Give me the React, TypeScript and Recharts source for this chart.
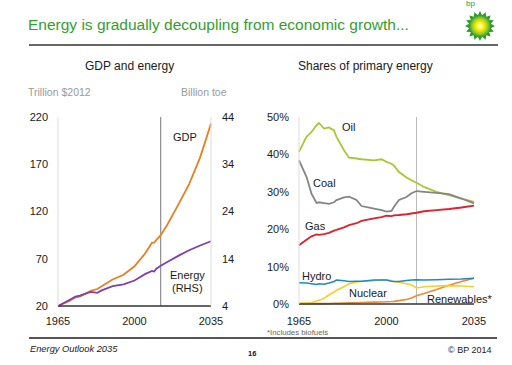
import React from "react";
import { LineChart, Line, XAxis, YAxis, ReferenceLine } from "recharts";

// GDP and energy (left panel)
const gdpYears = [1965, 1970, 1973, 1975, 1980, 1983, 1985, 1990, 1995, 2000, 2005, 2008, 2009, 2010, 2012, 2015, 2020, 2025, 2030, 2035];
const gdpValues = [20, 25, 29, 30, 36, 38, 41, 48, 53, 62, 76, 87, 87, 90, 95, 106, 127, 149, 177, 213];
const energyValues = [4, 5.2, 6, 6.2, 7, 6.8, 7.3, 8.2, 8.6, 9.4, 10.8, 11.4, 11.3, 11.9, 12.5, 13.3, 14.6, 15.8, 16.8, 17.7];
const gdpTicks = [20, 70, 120, 170, 220];
const energyTicks = [4, 14, 24, 34, 44];

// Shares of primary energy (right panel), %
const shareYears = [1965, 1968, 1970, 1972, 1973, 1975, 1977, 1979, 1980, 1983, 1985, 1988, 1990, 1995, 1998, 2000, 2002, 2003, 2005, 2008, 2010, 2012, 2015, 2020, 2025, 2030, 2035];
const oil = [40.7, 44.7, 46, 47.8, 48.4, 46.9, 47.2, 46.4, 44.7, 41.1, 39.1, 38.9, 38.7, 38.4, 38.7, 38, 37.5, 37, 35.3, 33.8, 33.1, 32.4, 31.3, 30, 29.1, 28.2, 27.3];
const coal = [38.4, 34, 29.5, 27, 27.2, 27, 26.8, 27.2, 27.8, 28.5, 28.7, 27.8, 26.2, 25.5, 25.1, 24.7, 24.9, 26, 27.8, 28.6, 29.6, 30.2, 30, 29.7, 29.4, 28.2, 26.9];
const gas = [15.7, 17.2, 18.1, 18.6, 18.5, 18.7, 19, 19.6, 19.8, 20.5, 21.1, 21.6, 22.2, 22.9, 23.2, 23.6, 23.5, 23.7, 23.8, 24, 24.2, 24.4, 24.8, 25.1, 25.4, 25.8, 26.3];
const hydro = [5.7, 5.6, 5.4, 5.2, 5.4, 5.3, 5.6, 6, 6.4, 6.2, 6, 6.1, 6.1, 6.4, 6.4, 6.4, 6.1, 6, 6, 6.3, 6.4, 6.5, 6.4, 6.5, 6.6, 6.7, 6.9];
const nuclear = [0.2, 0.3, 0.4, 0.8, 1, 1.5, 2.4, 3.2, 3.7, 4.6, 5.4, 5.9, 6, 6.2, 6.4, 6.4, 6.3, 6, 5.8, 5.4, 5.1, 4.3, 4.6, 4.8, 4.9, 4.8, 4.6];
const renewables = [0.1, 0.1, 0.1, 0.1, 0.1, 0.1, 0.15, 0.2, 0.2, 0.25, 0.3, 0.35, 0.4, 0.5, 0.55, 0.6, 0.65, 0.7, 0.9, 1.2, 1.6, 2.2, 2.8, 3.9, 5, 6, 6.9];
const shareTicks = [0, 10, 20, 30, 40, 50];
const yearTicks = [1965, 2000, 2035];
const baseYear = 2012;

const gdpData = gdpYears.map((year, i) => ({ year, gdp: gdpValues[i], energy: energyValues[i] }));
const shareData = shareYears.map((year, i) => ({
  year,
  oil: oil[i],
  coal: coal[i],
  gas: gas[i],
  hydro: hydro[i],
  nuclear: nuclear[i],
  renewables: renewables[i],
}));

const FONT = "'Liberation Sans', Arial, Helvetica, sans-serif";
const tickStyle = { fill: "#1a1a1a", fontSize: 11, fontFamily: FONT };

const Txt = ({
  x,
  y,
  size = 11,
  color = "#1a1a1a",
  children,
  style = {},
}: {
  x: number;
  y: number;
  size?: number;
  color?: string;
  children: React.ReactNode;
  style?: React.CSSProperties;
}) => (
  <div
    style={{
      position: "absolute",
      left: x,
      top: y - size / 2,
      fontSize: size,
      lineHeight: `${size}px`,
      color,
      whiteSpace: "nowrap",
      fontFamily: FONT,
      ...style,
    }}
  >
    {children}
  </div>
);

const BpLogo = () => {
  const rays = [];
  for (let i = 0; i < 16; i++) {
    const a = (i / 16) * Math.PI * 2;
    const b = a + Math.PI / 16;
    rays.push(
      `${16 + Math.cos(a) * 15},${16 + Math.sin(a) * 15} ${16 + Math.cos(b) * 11},${16 + Math.sin(b) * 11}`
    );
  }
  return (
    <svg width={32} height={32} style={{ position: "absolute", left: 464, top: 10 }}>
      <defs>
        <radialGradient id="sun" cx="50%" cy="50%" r="50%">
          <stop offset="0%" stopColor="#ffffff" />
          <stop offset="35%" stopColor="#fff200" />
          <stop offset="70%" stopColor="#9ccc2a" />
          <stop offset="100%" stopColor="#2e9a2e" />
        </radialGradient>
      </defs>
      <polygon points={rays.join(" ")} fill="#2e9a2e" />
      <circle cx={16} cy={16} r={11} fill="url(#sun)" />
    </svg>
  );
};

const App = () => {
  return (
    <div
      style={{
        position: "fixed",
        left: 0,
        top: 0,
        width: 512,
        height: 365,
        background: "#fff",
        fontFamily: FONT,
        overflow: "hidden",
      }}
    >
      <Txt x={28} y={25} size={15.5} color="#33a02c">
        Energy is gradually decoupling from economic growth...
      </Txt>
      <Txt x={466} y={4} size={8} color="#2e9a2e">bp</Txt>
      <BpLogo />
      <div style={{ position: "absolute", left: 29, top: 44, width: 469, height: 2, background: "#666" }} />

      <Txt x={85} y={66} size={12}>GDP and energy</Txt>
      <Txt x={298} y={66} size={12}>Shares of primary energy</Txt>
      <Txt x={28} y={92} size={10.5} color="#999">Trillion $2012</Txt>
      <Txt x={181} y={92} size={10.5} color="#999">Billion toe</Txt>

      <div style={{ position: "absolute", left: 0, top: 100 }}>
        <LineChart width={256} height={230} data={gdpData} margin={{ top: 17, right: 0, bottom: 0, left: 0 }}>
          <XAxis
            dataKey="year"
            type="number"
            domain={[1965, 2035]}
            ticks={yearTicks}
            tick={tickStyle}
            tickLine={false}
            tickSize={6}
            tickMargin={5}
            height={24}
            axisLine={{ stroke: "#333", strokeWidth: 1.5 }}
          />
          <YAxis
            yAxisId="left"
            domain={[20, 220]}
            ticks={gdpTicks}
            tick={tickStyle}
            tickLine={false}
            tickSize={6}
            tickMargin={4}
            width={58}
            axisLine={{ stroke: "#ddd" }}
          />
          <YAxis
            yAxisId="right"
            orientation="right"
            domain={[4, 44]}
            ticks={energyTicks}
            tick={{ ...tickStyle, textAnchor: "start" }}
            tickLine={false}
            tickSize={6}
            tickMargin={5}
            width={45}
            axisLine={{ stroke: "#ddd" }}
          />
          <ReferenceLine yAxisId="left" x={baseYear} stroke="#777" strokeWidth={1} />
          <Line yAxisId="left" dataKey="gdp" stroke="#e8801f" strokeWidth={1.8} dot={false} isAnimationActive={false} />
          <Line yAxisId="right" dataKey="energy" stroke="#7d3fb0" strokeWidth={1.8} dot={false} isAnimationActive={false} />
        </LineChart>
      </div>

      <div style={{ position: "absolute", left: 256, top: 100 }}>
        <LineChart width={256} height={230} data={shareData} margin={{ top: 17, right: 38, bottom: 0, left: 0 }}>
          <XAxis
            dataKey="year"
            type="number"
            domain={[1965, 2035]}
            ticks={yearTicks}
            tick={tickStyle}
            tickLine={false}
            tickSize={6}
            tickMargin={7}
            height={26}
            axisLine={{ stroke: "#333", strokeWidth: 1.5 }}
          />
          <YAxis
            domain={[0, 50]}
            ticks={shareTicks}
            tick={tickStyle}
            tickFormatter={(v) => `${v}%`}
            tickLine={false}
            tickSize={6}
            tickMargin={4}
            width={43}
            axisLine={{ stroke: "#ddd" }}
          />
          <ReferenceLine x={baseYear} stroke="#bbb" strokeWidth={1} />
          <Line dataKey="oil" stroke="#a8c832" strokeWidth={1.8} dot={false} isAnimationActive={false} />
          <Line dataKey="coal" stroke="#858585" strokeWidth={1.8} dot={false} isAnimationActive={false} />
          <Line dataKey="gas" stroke="#e0202a" strokeWidth={1.8} dot={false} isAnimationActive={false} />
          <Line dataKey="renewables" stroke="#f08a30" strokeWidth={1.6} dot={false} isAnimationActive={false} />
          <Line dataKey="nuclear" stroke="#f2d21e" strokeWidth={1.6} dot={false} isAnimationActive={false} />
          <Line dataKey="hydro" stroke="#1e88c8" strokeWidth={1.6} dot={false} isAnimationActive={false} />
        </LineChart>
      </div>

      <Txt x={173} y={137} size={11}>GDP</Txt>
      <Txt x={170} y={275} size={11}>Energy</Txt>
      <Txt x={172} y={288} size={11}>(RHS)</Txt>

      <Txt x={342} y={127} size={11}>Oil</Txt>
      <Txt x={313} y={183} size={11}>Coal</Txt>
      <Txt x={305} y={226} size={11}>Gas</Txt>
      <Txt x={302} y={276} size={11}>Hydro</Txt>
      <Txt x={349} y={293} size={11}>Nuclear</Txt>
      <Txt x={427} y={299} size={11}>Renewables*</Txt>

      <Txt x={267} y={333} size={7.8} color="#666">*Includes biofuels</Txt>
      <div style={{ position: "absolute", left: 29, top: 337, width: 468, height: 1.5, background: "#555" }} />
      <Txt x={30} y={350} size={9.3} style={{ fontStyle: "italic" }}>Energy Outlook 2035</Txt>
      <Txt x={248} y={354} size={7.5} style={{ fontWeight: "bold" }}>16</Txt>
      <Txt x={448} y={350} size={9}>© BP 2014</Txt>
    </div>
  );
};

export default App;
